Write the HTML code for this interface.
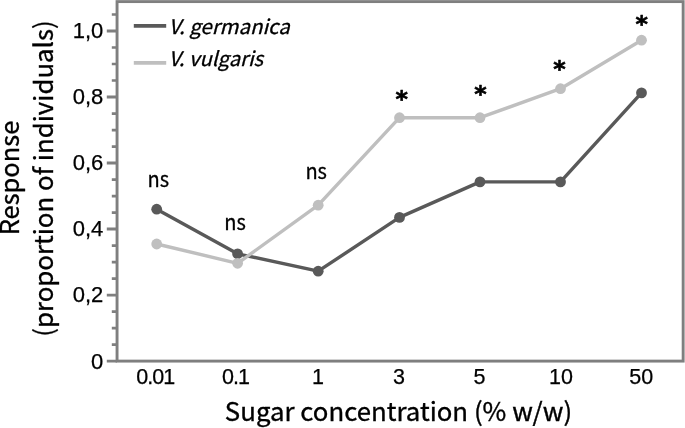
<!DOCTYPE html>
<html><head><meta charset="utf-8"><title>Response vs sugar concentration</title>
<style>
html,body{margin:0;padding:0;background:#fff;}
svg{display:block;}
text{font-family:"Liberation Sans",sans-serif;fill:#000;}
.star text{font-family:"DejaVu Sans","Liberation Sans",sans-serif;}
.cal text, text.cal{font-family:"Noto Sans CJK SC","Liberation Sans",sans-serif;}
</style></head><body>
<svg xmlns="http://www.w3.org/2000/svg" width="685" height="428" viewBox="0 0 685 428">
<rect width="685" height="428" fill="#fff"/>
<rect x="117.05" y="1.6" width="566.1" height="359.5" fill="none" stroke="#7f7f7f" stroke-width="2.9"/>
<path d="M106.8 361.10H117.05 M106.8 295.08H117.05 M106.8 229.06H117.05 M106.8 163.04H117.05 M106.8 97.02H117.05 M106.8 31.00H117.05" stroke="#7f7f7f" stroke-width="2.9" fill="none"/>
<path d="M111.8 344.60H117.05 M111.8 328.09H117.05 M111.8 311.59H117.05 M111.8 278.58H117.05 M111.8 262.07H117.05 M111.8 245.56H117.05 M111.8 212.56H117.05 M111.8 196.05H117.05 M111.8 179.54H117.05 M111.8 146.53H117.05 M111.8 130.03H117.05 M111.8 113.53H117.05 M111.8 80.51H117.05 M111.8 64.01H117.05 M111.8 47.50H117.05 M111.8 14.50H117.05" stroke="#7f7f7f" stroke-width="2.7" fill="none"/>
<g font-size="22" text-anchor="end" stroke="#000" stroke-width="0.25">
<text x="103.3" y="368.50">0</text>
<text x="103.3" y="302.48">0,2</text>
<text x="103.3" y="236.46">0,4</text>
<text x="103.3" y="170.44">0,6</text>
<text x="103.3" y="104.42">0,8</text>
<text x="103.3" y="38.40">1,0</text>
</g>
<g font-size="21.5" text-anchor="middle" stroke="#000" stroke-width="0.25">
<text x="155.7" y="384.2" textLength="38.8" lengthAdjust="spacing">0.01</text>
<text x="236.0" y="384.2" textLength="27.9" lengthAdjust="spacing">0.1</text>
<text x="318.0" y="384.2">1</text>
<text x="399.1" y="384.2">3</text>
<text x="479.4" y="384.2">5</text>
<text x="561.0" y="384.2">10</text>
<text x="641.3" y="384.2">50</text>
</g>
<polyline fill="none" stroke-width="3.4" stroke-linejoin="round" stroke="#595959" points="156.7,209.2 237.6,253.8 318.2,271.2 399.5,217.4 480.0,181.9 560.5,181.9 641.5,92.9"/>
<g fill="#595959"><circle cx="156.7" cy="209.2" r="5.4"/><circle cx="237.6" cy="253.8" r="5.4"/><circle cx="318.2" cy="271.2" r="5.4"/><circle cx="399.5" cy="217.4" r="5.4"/><circle cx="480.0" cy="181.9" r="5.4"/><circle cx="560.5" cy="181.9" r="5.4"/><circle cx="641.5" cy="92.9" r="5.4"/></g>
<polyline fill="none" stroke-width="3.4" stroke-linejoin="round" stroke="#bfbfbf" points="156.7,244.0 237.6,263.3 318.2,205.2 399.5,117.7 480.0,117.7 560.5,88.7 641.5,40.2"/>
<g fill="#bfbfbf"><circle cx="156.7" cy="244.0" r="5.4"/><circle cx="237.6" cy="263.3" r="5.4"/><circle cx="318.2" cy="205.2" r="5.4"/><circle cx="399.5" cy="117.7" r="5.4"/><circle cx="480.0" cy="117.7" r="5.4"/><circle cx="560.5" cy="88.7" r="5.4"/><circle cx="641.5" cy="40.2" r="5.4"/></g>
<path d="M133.8 25.8H166.2" stroke="#595959" stroke-width="3.8"/>
<path d="M133.8 62.8H166.2" stroke="#bfbfbf" stroke-width="3.8"/>
<g class="cal" font-size="20" font-style="italic" stroke="#000" stroke-width="0.3">
<text x="168.7" y="33.7" textLength="121" lengthAdjust="spacingAndGlyphs">V. germanica</text>
<text x="168.7" y="66.1" textLength="94.3" lengthAdjust="spacingAndGlyphs">V. vulgaris</text>
</g>
<g class="cal" font-size="21.6" text-anchor="middle" stroke="#000" stroke-width="0.3">
<text x="158.35" y="187.2" textLength="21.6" lengthAdjust="spacingAndGlyphs">ns</text>
<text x="235.0" y="229.6" textLength="21.6" lengthAdjust="spacingAndGlyphs">ns</text>
<text x="316.2" y="178.7" textLength="21.6" lengthAdjust="spacingAndGlyphs">ns</text>
</g>
<g class="star" font-size="23.8" text-anchor="middle" font-weight="bold" stroke="#000" stroke-width="0.6" stroke-linejoin="round">
<text x="401.65" y="106.95">*</text>
<text x="480.55" y="102.05">*</text>
<text x="559.4" y="77.30">*</text>
<text x="641.8" y="31.95">*</text>
</g>
<g class="cal" font-size="25.6" text-anchor="middle" stroke="#000" stroke-width="0.35">
<text x="398.5" y="421.2" textLength="347.3" lengthAdjust="spacingAndGlyphs">Sugar concentration (% w/w)</text>
<text transform="translate(18.6,178) rotate(-90)" textLength="114.5" lengthAdjust="spacingAndGlyphs">Response</text>
<text transform="translate(53.1,178.5) rotate(-90)" textLength="316.5" lengthAdjust="spacingAndGlyphs">(proportion of individuals)</text>
</g>
</svg>
</body></html>
